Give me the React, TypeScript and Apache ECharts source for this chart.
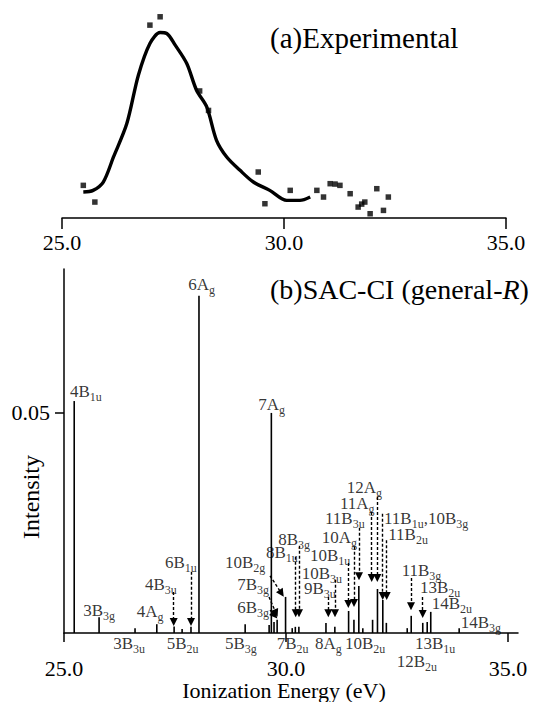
import React, { useEffect, useRef } from 'react';
import * as echarts from 'echarts';

const FONT = '"Liberation Serif", "Times New Roman", serif';

// (a) Experimental spectrum (arbitrary units)
const expEnergy = [25.48, 25.70, 25.93, 26.16, 26.46, 26.72, 26.98, 27.21, 27.36, 27.55, 27.81, 28.03, 28.26, 28.48, 28.71, 29.01, 29.31, 29.68, 30.06, 30.36, 30.59];
const expIntensity = [14.0, 14.9, 19.4, 32.9, 50.9, 77.0, 94.1, 100, 99.5, 93.2, 83.3, 68.9, 59.9, 41.9, 32.9, 25.7, 19.4, 14.9, 9.5, 9.5, 11.3];
const expPointEnergy = [25.48, 25.74, 26.98, 27.21, 28.10, 28.30, 29.42, 29.57, 30.14, 30.74, 30.89, 31.04, 31.15, 31.26, 31.49, 31.67, 31.75, 31.82, 31.94, 32.09, 32.24, 32.35];
const expPointIntensity = [17.6, 8.6, 104, 108.5, 68.5, 58, 24.8, 7.7, 14.9, 14.9, 11.3, 18.5, 18.3, 17.6, 13.1, 5.9, 7.5, 8.6, 2.3, 15.8, 4.1, 11.3];

// (b) SAC-CI stick spectrum
const peakEnergy = [25.23, 25.79, 26.60, 27.09, 27.48, 27.66, 27.86, 28.04, 29.08, 29.62, 29.67, 29.73, 29.80, 29.99, 30.14, 30.21, 30.29, 30.90, 31.10, 31.41, 31.53, 31.64, 31.73, 31.95, 32.06, 32.18, 32.26, 32.73, 32.82, 33.08, 33.18, 33.26, 33.90];
const peakIntensity = [0.0527, 0.0036, 0.0011, 0.0020, 0.0015, 0.0009, 0.0014, 0.0766, 0.0020, 0.0018, 0.0500, 0.0025, 0.0030, 0.0082, 0.0011, 0.0014, 0.0014, 0.0023, 0.0014, 0.0050, 0.0030, 0.0107, 0.0011, 0.0030, 0.0100, 0.0075, 0.0023, 0.0011, 0.0039, 0.0023, 0.0025, 0.0048, 0.0011];

// state labels (anchor: left edge, vertical middle of main text)
const labelNames = ['6Ag', '4B1u', '7Ag', '6B1u', '4B3u', '4Ag', '3B3g', '10B2g', '7B3g', '6B3g', '8B1u', '8B3g', '10B1u', '10Ag', '11B3u', '11Ag', '12Ag', '11B1u,10B3g', '11B2u', '10B3u', '9B3u', '11B3g', '13B2u', '14B2u', '14B3g', '3B3u', '5B2u', '5B3g', '7B2u', '8Ag', '10B2u', '13B1u', '12B2u'];
const labelEnergy = [27.80, 25.135, 29.376, 27.275, 26.824, 26.637, 25.435, 28.626, 28.903, 28.903, 29.550, 29.827, 30.541, 30.804, 30.878, 31.216, 31.367, 32.207, 32.304, 30.354, 30.405, 32.606, 33.018, 33.282, 33.935, 26.110, 27.313, 28.626, 29.791, 30.653, 31.329, 32.905, 32.493];
const labelIntensity = [0.0791, 0.0548, 0.0520, 0.0160, 0.0111, 0.0048, 0.0051, 0.0160, 0.0110, 0.0057, 0.0183, 0.0213, 0.0177, 0.0217, 0.0259, 0.0295, 0.0330, 0.0259, 0.0223, 0.0136, 0.0101, 0.0142, 0.0103, 0.0066, 0.0024, -0.0024, -0.0024, -0.0024, -0.0025, -0.0025, -0.0025, -0.0025, -0.0064];

// dashed arrows: from [E, I] to [E, I]
const arrowFromE = [27.860, 27.471, 30.293, 30.218, 31.403, 31.532, 31.644, 31.930, 32.056, 32.178, 32.268, 30.953, 31.104, 32.815, 33.079, 32.718, 29.640, 29.617, 29.640];
const arrowFromI = [0.0139, 0.0093, 0.0198, 0.0173, 0.0159, 0.0196, 0.0239, 0.0275, 0.0309, 0.0271, 0.0211, 0.0082, 0.0121, 0.0125, 0.0082, -0.0046, 0.0130, 0.0082, 0.0052];
const arrowToE = [27.860, 27.471, 30.293, 30.218, 31.403, 31.532, 31.644, 31.930, 32.056, 32.178, 32.268, 30.953, 31.104, 32.815, 33.079, 32.718, 29.900, 29.775, 29.745];
const arrowToI = [0.0025, 0.0025, 0.0045, 0.0045, 0.0066, 0.0068, 0.0129, 0.0125, 0.0125, 0.0084, 0.0084, 0.0045, 0.0045, 0.0061, 0.0043, -0.0013, 0.0090, 0.0045, 0.0040];

const xTicks = [25, 30, 35];
const yTicks = [0.05];

function toRich(name: string): string {
  const parts: string[] = [];
  name.split(',').forEach((seg, i) => {
    const m = seg.match(/^(\d+[AB])(.*)$/);
    const pre = i > 0 ? ',' : '';
    if (m) parts.push(`{m|${pre}${m[1]}}{s|${m[2]}}`);
    else parts.push(`{m|${pre}${seg}}`);
  });
  return parts.join('');
}

export default function App() {
  const ref = useRef<HTMLDivElement>(null);
  useEffect(() => {
    const chart = echarts.init(ref.current!, null, { renderer: 'svg' });
    const axisLineStyle = { color: '#000', width: 1.5 };
    const option: any = {
      animation: false,
      backgroundColor: '#fff',
      grid: [
        { left: 62, top: 14, width: 444, height: 204 },
        { left: 64, top: 269, width: 454, height: 364 },
      ],
      xAxis: [
        {
          type: 'value', gridIndex: 0, min: 25, max: 35, interval: 5,
          axisLine: { lineStyle: axisLineStyle },
          axisTick: { length: 11, lineStyle: axisLineStyle },
          axisLabel: { fontFamily: FONT, fontSize: 22, color: '#000', margin: 13, formatter: (v: number) => v.toFixed(1) },
          splitLine: { show: false },
        },
        {
          type: 'value', gridIndex: 1, min: 25, max: 35.225,
          axisLine: { onZero: false, lineStyle: axisLineStyle },
          axisTick: { length: 9, lineStyle: axisLineStyle, customValues: xTicks },
          axisLabel: { fontFamily: FONT, fontSize: 22, color: '#000', margin: 24, customValues: xTicks, formatter: (v: number) => v.toFixed(1) },
          splitLine: { show: false },
        },
      ],
      yAxis: [
        { type: 'value', gridIndex: 0, min: 0, max: 110, show: false },
        {
          type: 'value', gridIndex: 1, min: 0, max: 0.0827,
          axisLine: { show: true, onZero: false, lineStyle: axisLineStyle },
          axisTick: { show: true, length: 9, lineStyle: axisLineStyle, customValues: yTicks },
          axisLabel: { fontFamily: FONT, fontSize: 22, color: '#000', margin: 14, customValues: yTicks, formatter: (v: number) => v.toFixed(2) },
          splitLine: { show: false },
        },
      ],
      series: [
        {
          type: 'line', xAxisIndex: 0, yAxisIndex: 0, smooth: 0.3, symbol: 'none',
          lineStyle: { color: '#000', width: 3.4 },
          data: expEnergy.map((e, i) => [e, expIntensity[i]]),
        },
        {
          type: 'scatter', xAxisIndex: 0, yAxisIndex: 0, symbol: 'rect', symbolSize: 5.5,
          itemStyle: { color: '#000' },
          data: expPointEnergy.map((e, i) => [e, expPointIntensity[i]]),
        },
        {
          type: 'custom', xAxisIndex: 1, yAxisIndex: 1, clip: false,
          encode: { x: 0, y: 1 },
          data: peakEnergy.map((e, i) => [e, peakIntensity[i]]),
          renderItem: (params: any, api: any) => {
            const p0 = api.coord([api.value(0), 0]);
            const p1 = api.coord([api.value(0), api.value(1)]);
            return {
              type: 'line',
              shape: { x1: p0[0], y1: p0[1], x2: p1[0], y2: p1[1] },
              style: { stroke: '#000', lineWidth: 1.6 },
            };
          },
        },
        {
          type: 'lines', coordinateSystem: 'cartesian2d', xAxisIndex: 1, yAxisIndex: 1,
          symbol: ['none', 'triangle'], symbolSize: [0, 8],
          lineStyle: { color: '#000', width: 1.4, type: [3, 2], opacity: 1 },
          itemStyle: { color: '#000' },
          data: arrowFromE.map((e, i) => ({ coords: [[e, arrowFromI[i]], [arrowToE[i], arrowToI[i]]] })),
        },
        {
          type: 'scatter', xAxisIndex: 1, yAxisIndex: 1, clip: false,
          symbol: 'circle', symbolSize: 0.1, itemStyle: { color: 'rgba(0,0,0,0)' },
          silent: true,
          data: labelNames.map((n, i) => ({ name: n, value: [labelEnergy[i], labelIntensity[i]] })),
          label: {
            show: true, position: [0, 0], align: 'left', verticalAlign: 'middle',
            formatter: (p: any) => toRich(p.name),
            rich: {
              m: { fontFamily: FONT, fontSize: 17, color: '#000', lineHeight: 15 },
              s: { fontFamily: FONT, fontSize: 12, color: '#000', lineHeight: 3, padding: [11, 0, 0, 0] },
            },
          },
        },
      ],
      graphic: [
        {
          type: 'text', x: 270, y: 38,
          style: { text: '(a)Experimental', font: `29px ${FONT}`, fill: '#000', align: 'left', verticalAlign: 'middle' },
        },
        {
          type: 'text', x: 270, y: 289,
          style: {
            text: '{n|(b)SAC-CI (general-}{i|R}{n|)}', align: 'left', verticalAlign: 'middle', fill: '#000',
            rich: {
              n: { fontFamily: FONT, fontSize: 28, color: '#000' },
              i: { fontFamily: FONT, fontSize: 28, fontStyle: 'italic', color: '#000' },
            },
          },
        },
        {
          type: 'text', x: 31, y: 497, rotation: Math.PI / 2,
          style: { text: 'Intensity', font: `24px ${FONT}`, fill: '#000', align: 'center', verticalAlign: 'middle' },
        },
        {
          type: 'text', x: 284, y: 690,
          style: { text: 'Ionization Energy (eV)', font: `22px ${FONT}`, fill: '#000', align: 'center', verticalAlign: 'middle' },
        },
      ],
    };
    chart.setOption(option);
    return () => chart.dispose();
  }, []);
  return <div ref={ref} style={{ position: 'absolute', left: 0, top: 0, width: 540, height: 702 }} />;
}
